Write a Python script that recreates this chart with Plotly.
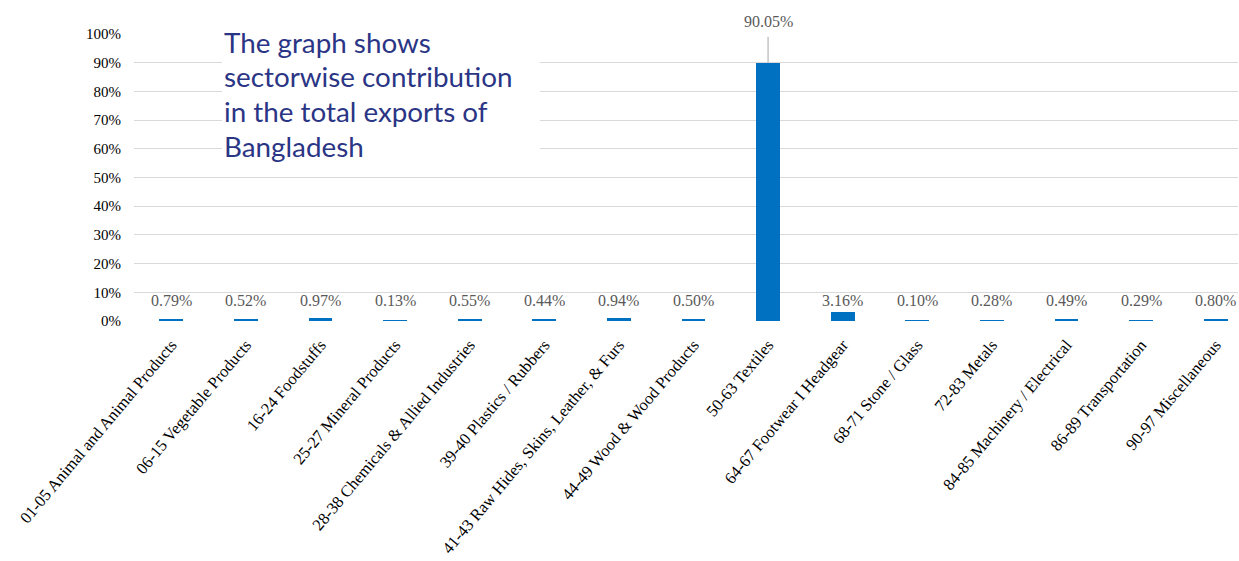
import plotly.graph_objects as go

categories = [
    "01-05 Animal and Animal Products",
    "06-15 Vegetable Products",
    "16-24 Foodstuffs",
    "25-27 Mineral Products",
    "28-38 Chemicals & Allied Industries",
    "39-40 Plastics / Rubbers",
    "41-43 Raw Hides, Skins, Leather, & Furs",
    "44-49 Wood & Wood Products",
    "50-63 Textiles",
    "64-67 Footwear I Headgear",
    "68-71 Stone / Glass",
    "72-83 Metals",
    "84-85 Machinery / Electrical",
    "86-89 Transportation",
    "90-97 Miscellaneous",
]
shares = [0.79, 0.52, 0.97, 0.13, 0.55, 0.44, 0.94, 0.50, 90.05, 3.16, 0.10, 0.28, 0.49, 0.29, 0.80]
y_ticks = [0, 10, 20, 30, 40, 50, 60, 70, 80, 90, 100]
y_tick_labels = [f"{v}%" for v in y_ticks]
note_lines = ["The graph shows", "sectorwise contribution", "in the total exports of", "Bangladesh"]

idx = list(range(len(categories)))

fig = go.Figure()
fig.add_trace(go.Bar(
    x=idx, y=shares, width=0.32,
    marker=dict(color="#0070C0", line=dict(width=0)),
    hoverinfo="skip",
))

serif = "Liberation Serif, Times New Roman, serif"
LOW_LABEL_Y = 7.3
for i, v in zip(idx, shares):
    if v < 10:
        fig.add_annotation(x=i, y=LOW_LABEL_Y, text=f"{v:.2f}%", showarrow=False,
                           xref="x", yref="y", yanchor="middle",
                           font=dict(family=serif, size=16, color="#595959"))
    else:
        fig.add_annotation(x=i, y=1.043, text=f"{v:.2f}%", showarrow=False,
                           xref="x", yref="paper", yanchor="middle",
                           font=dict(family=serif, size=16, color="#595959"))
        fig.add_shape(type="line", x0=i, x1=i, y0=v, y1=99.0, xref="x", yref="y",
                      line=dict(color="#A6A6A6", width=1), layer="above")

# white box behind the note
fig.add_shape(type="rect", xref="paper", yref="paper",
              x0=0.0797, x1=0.3678, y0=0.545, y1=1.031,
              fillcolor="white", line=dict(width=0), layer="above")
PLOT_TOP, PLOT_H = 34, 287
for k, line in enumerate(note_lines):
    py = 42 + k * 34.7
    fig.add_annotation(xref="paper", yref="paper", x=0.0797, y=(PLOT_TOP + PLOT_H - py) / PLOT_H,
                       xanchor="left", yanchor="middle", align="left", showarrow=False,
                       text=line,
                       font=dict(family="Lato, Noto Sans, sans-serif", size=27.8, color="#2B3585"))

fig.update_layout(
    width=1239, height=561,
    margin=dict(l=134, r=1, t=34, b=240, autoexpand=False),
    paper_bgcolor="white", plot_bgcolor="white",
    showlegend=False,
    bargap=0,
)
fig.update_xaxes(
    range=[-0.5, 14.3],
    tickmode="array", tickvals=idx, ticktext=categories,
    tickangle=-50, showgrid=False, zeroline=False, showline=False, ticks="",
    ticklabelstandoff=10,
    tickfont=dict(family=serif, size=16.5, color="black"),
    automargin=False,
)
fig.update_yaxes(
    range=[0, 100],
    tickmode="array", tickvals=y_ticks, ticktext=y_tick_labels,
    showgrid=True, gridcolor="#D9D9D9", gridwidth=1.3,
    zeroline=False, showline=False, ticks="",
    ticklabelstandoff=12,
    tickfont=dict(family=serif, size=15, color="black"),
    automargin=False,
)

fig.write_html("out.html")
